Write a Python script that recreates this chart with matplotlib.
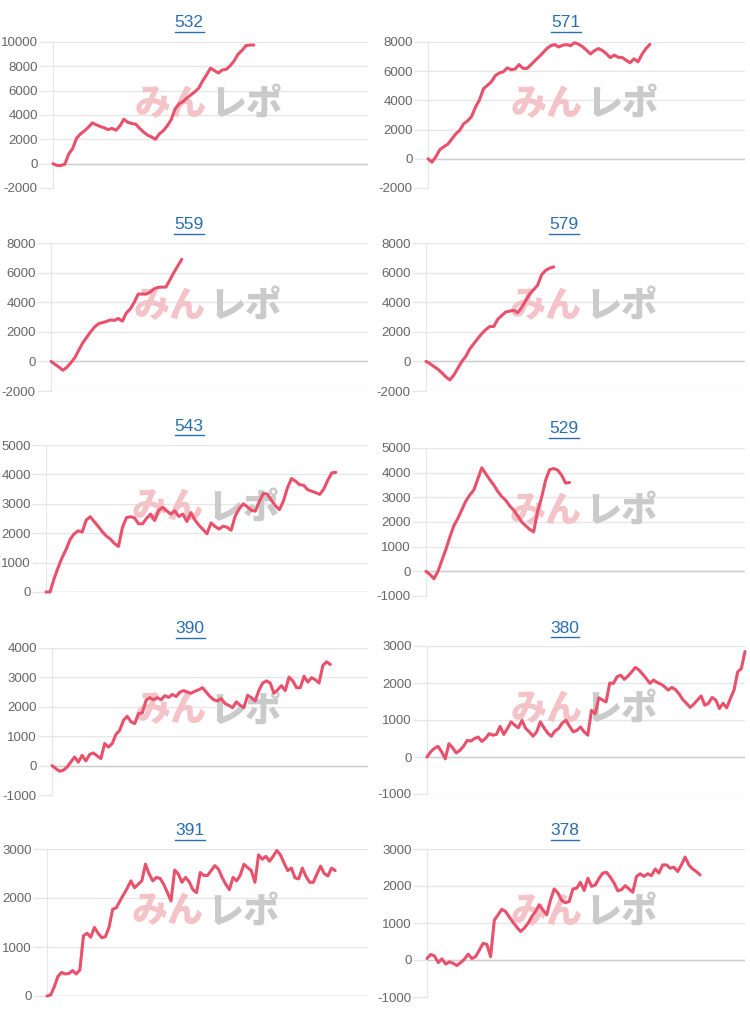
import numpy as np
import matplotlib
matplotlib.use("Agg")
import matplotlib.pyplot as plt
from matplotlib.lines import Line2D

plt.rcParams['font.family'] = ['Liberation Sans', 'DejaVu Sans']
plt.rcParams['axes.unicode_minus'] = False

""" DATA """
titles = ['532', '571', '559', '579', '543', '529', '390', '380', '391', '378']

s532 = [0, -150, -150, -50, 800, 1250, 2100, 2450, 2700, 3000, 3350, 3200, 3050, 2950,
        2800, 2900, 2750, 3100, 3650, 3400, 3300, 3250, 2900, 2600, 2350, 2200, 2000,
        2450, 2700, 3100, 3600, 4500, 4900, 5100, 5400, 5650, 5900, 6200, 6800, 7300,
        7850, 7650, 7450, 7700, 7750, 8050, 8450, 9000, 9300, 9700, 9750, 9750]
s571 = [0, -230, 150, 630, 830, 1000, 1350, 1700, 1950, 2400, 2600, 2900, 3550, 4040,
        4800, 5030, 5280, 5700, 5880, 5960, 6230, 6100, 6150, 6450, 6190, 6190, 6450,
        6720, 6980, 7260, 7550, 7750, 7820, 7660, 7780, 7820, 7750, 7950, 7850, 7680,
        7440, 7180, 7400, 7550, 7420, 7200, 6930, 7100, 6950, 6940, 6750, 6580, 6850,
        6640, 7150, 7550, 7840]
s559 = [0, -200, -380, -600, -400, -100, 250, 750, 1250, 1620, 2000, 2320, 2550, 2620,
        2700, 2800, 2770, 2900, 2720, 3270, 3540, 3990, 4550, 4550, 4550, 4680, 4900,
        5000, 5020, 5020, 5500, 6000, 6450, 6900]
s579 = [0, -150, -350, -530, -780, -1050, -1250, -920, -450, 0, 350, 850, 1200, 1550,
        1880, 2150, 2360, 2360, 2850, 3100, 3340, 3400, 3450, 3300, 3650, 4100, 4550,
        4850, 5150, 5850, 6150, 6300, 6380]
s543 = [0, 0, 450, 830, 1170, 1450, 1790, 1980, 2080, 2040, 2450, 2560, 2390, 2230,
        2050, 1900, 1800, 1650, 1550, 2200, 2530, 2560, 2520, 2320, 2320, 2510, 2650,
        2430, 2780, 2880, 2760, 2650, 2760, 2570, 2650, 2400, 2700, 2450, 2270, 2130,
        1980, 2350, 2230, 2140, 2240, 2200, 2100, 2580, 2830, 3000, 2900, 2780, 2750,
        3080, 3350, 3330, 3120, 2930, 2800, 3100, 3550, 3860, 3770, 3650, 3630, 3480,
        3430, 3380, 3320, 3500, 3800, 4050, 4070]
s529 = [0, -130, -300, 0, 450, 900, 1400, 1850, 2150, 2500, 2850, 3100, 3300, 3750,
        4200, 3950, 3720, 3500, 3240, 3030, 2880, 2650, 2480, 2250, 2000, 1850, 1700,
        1600, 2450, 3000, 3700, 4120, 4170, 4110, 3900, 3580, 3600]
s390 = [0, -100, -190, -160, -50, 120, 290, 120, 350, 160, 380, 430, 330, 240, 750,
        630, 750, 1060, 1200, 1540, 1680, 1490, 1430, 1770, 1790, 2220, 2310, 2240,
        2310, 2240, 2380, 2320, 2420, 2350, 2500, 2550, 2500, 2460, 2530, 2580, 2650,
        2500, 2350, 2240, 2200, 2280, 2110, 2050, 1970, 2170, 2050, 1970, 2390, 2310,
        2200, 2560, 2810, 2880, 2810, 2460, 2580, 2720, 2550, 3010, 2880, 2650, 2650,
        3040, 2840, 2990, 2920, 2810, 3410, 3530, 3440]
s380 = [0, 140, 230, 290, 140, -50, 360, 250, 110, 180, 290, 450, 430, 500, 540, 420,
        500, 630, 590, 610, 830, 610, 770, 950, 860, 790, 990, 770, 680, 560, 680, 950,
        790, 650, 560, 700, 770, 920, 990, 830, 680, 720, 810, 680, 590, 1260, 1170,
        1600, 1540, 1490, 2000, 1990, 2170, 2210, 2100, 2190, 2300, 2420, 2350, 2240,
        2120, 1990, 2080, 2010, 1970, 1900, 1810, 1880, 1820, 1700, 1550, 1450, 1340,
        1430, 1540, 1650, 1400, 1450, 1610, 1540, 1310, 1450, 1330, 1580, 1810, 2300,
        2390, 2850]
s391 = [0, 20, 190, 400, 480, 450, 460, 520, 450, 530, 1230, 1280, 1200, 1400, 1280,
        1190, 1210, 1400, 1770, 1800, 1940, 2070, 2200, 2350, 2210, 2280, 2350, 2690,
        2490, 2350, 2420, 2400, 2280, 2110, 1940, 2570, 2490, 2320, 2420, 2330, 2170,
        2110, 2520, 2460, 2460, 2560, 2660, 2590, 2420, 2280, 2170, 2420, 2350, 2470,
        2690, 2620, 2560, 2320, 2880, 2790, 2850, 2750, 2850, 2970, 2880, 2710, 2560,
        2610, 2410, 2390, 2610, 2440, 2320, 2320, 2490, 2650, 2500, 2450, 2610, 2560]
s378 = [40, 150, 110, -70, 30, -110, -50, -90, -150, -70, 20, 160, 40, 90, 270, 450,
        420, 90, 1080, 1220, 1370, 1310, 1160, 1020, 890, 770, 860, 990, 1170, 1310,
        1490, 1350, 1220, 1620, 1920, 1810, 1610, 1550, 1580, 1920, 1940, 2100, 1880,
        2210, 1990, 2030, 2210, 2350, 2370, 2240, 2080, 1870, 1900, 2010, 1920, 1830,
        2260, 2330, 2260, 2330, 2280, 2460, 2350, 2570, 2570, 2480, 2510, 2390, 2570,
        2780, 2570, 2460, 2390, 2300]

series = [s532, s571, s559, s579, s543, s529, s390, s380, s391, s378]
y_ranges = [(-2000, 10000, 2000), (-2000, 8000, 2000), (-2000, 8000, 2000),
            (-2000, 8000, 2000), (0, 5000, 1000), (-1000, 5000, 1000),
            (-1000, 4000, 1000), (-1000, 3000, 1000), (0, 3000, 1000),
            (-1000, 3000, 1000)]
slots = [80, 80, 80, 80, 80, 80, 84, 87, 88, 85]

""" LAYOUT (pixels) """
W, H = 750, 1010
boxes = [(53, 368, 42, 188), (428, 745, 42, 188),
         (51, 368, 243, 391), (426, 745, 243, 391),
         (46, 368, 445, 592), (426, 745, 448, 596),
         (52, 368, 648, 795), (427, 745, 646, 794),
         (47, 368, 849, 996), (427, 745, 849, 997)]
title_pos = [(189, 27.3), (566, 27.3), (189, 229.3), (564, 229.3), (189, 431),
             (564, 433.3), (190, 633.3), (565, 632.7), (190, 835), (565, 835)]

LINE_COLOR = '#e8506c'
GRID_COLOR = '#e6e6e6'
TITLE_COLOR = '#2a6db0'

fig = plt.figure(figsize=(W / 100, H / 100), dpi=100)
renderer = fig.canvas.get_renderer()

for i in range(len(series)):
    l, r, t, b = boxes[i]
    ax = fig.add_axes([l / W, 1 - b / H, (r - l) / W, (b - t) / H])
    lo, hi, step = y_ranges[i]
    ax.set_ylim(lo, hi)
    ax.set_yticks(np.arange(lo, hi + 1, step))
    ax.set_xlim(0, slots[i])
    ax.set_xticks([])
    ax.grid(axis='y', color=GRID_COLOR, linewidth=1)
    ax.set_axisbelow(True)
    ax.axhline(0, color='#cccccc', linewidth=1, zorder=1)
    for side in ['top', 'right', 'bottom']:
        ax.spines[side].set_visible(False)
    ax.spines['left'].set_color(GRID_COLOR)
    ax.tick_params(axis='y', length=10, width=1, color=GRID_COLOR, pad=1,
                   labelsize=9.5, labelcolor='#666666')

    # watermark
    ax.text(0.49, 0.575, 'みん', transform=ax.transAxes, ha='right', va='center',
            fontsize=26, fontweight='black', color='#f4c3c7', zorder=2,
            family=['Noto Sans CJK JP', 'DejaVu Sans'])
    ax.text(0.50, 0.575, 'レポ', transform=ax.transAxes, ha='left', va='center',
            fontsize=26, fontweight='black', color='#cacaca', zorder=2,
            family=['Noto Sans CJK JP', 'DejaVu Sans'])

    y = series[i]
    ax.plot(range(len(y)), y, color=LINE_COLOR, linewidth=2.2, clip_on=False,
            zorder=3, solid_joinstyle='round', solid_capstyle='round')

    tx, ty = title_pos[i]
    txt = fig.text(tx / W, 1 - ty / H, titles[i], ha='center', va='baseline',
                   fontsize=12.5, color=TITLE_COLOR)
    bb = txt.get_window_extent(renderer)
    uy = (bb.y0 - 1.5) / H
    fig.add_artist(Line2D([bb.x0 / W, bb.x1 / W], [uy, uy], transform=fig.transFigure,
                          color=TITLE_COLOR, linewidth=1))

fig.savefig('out.png', dpi=100, facecolor='white')
